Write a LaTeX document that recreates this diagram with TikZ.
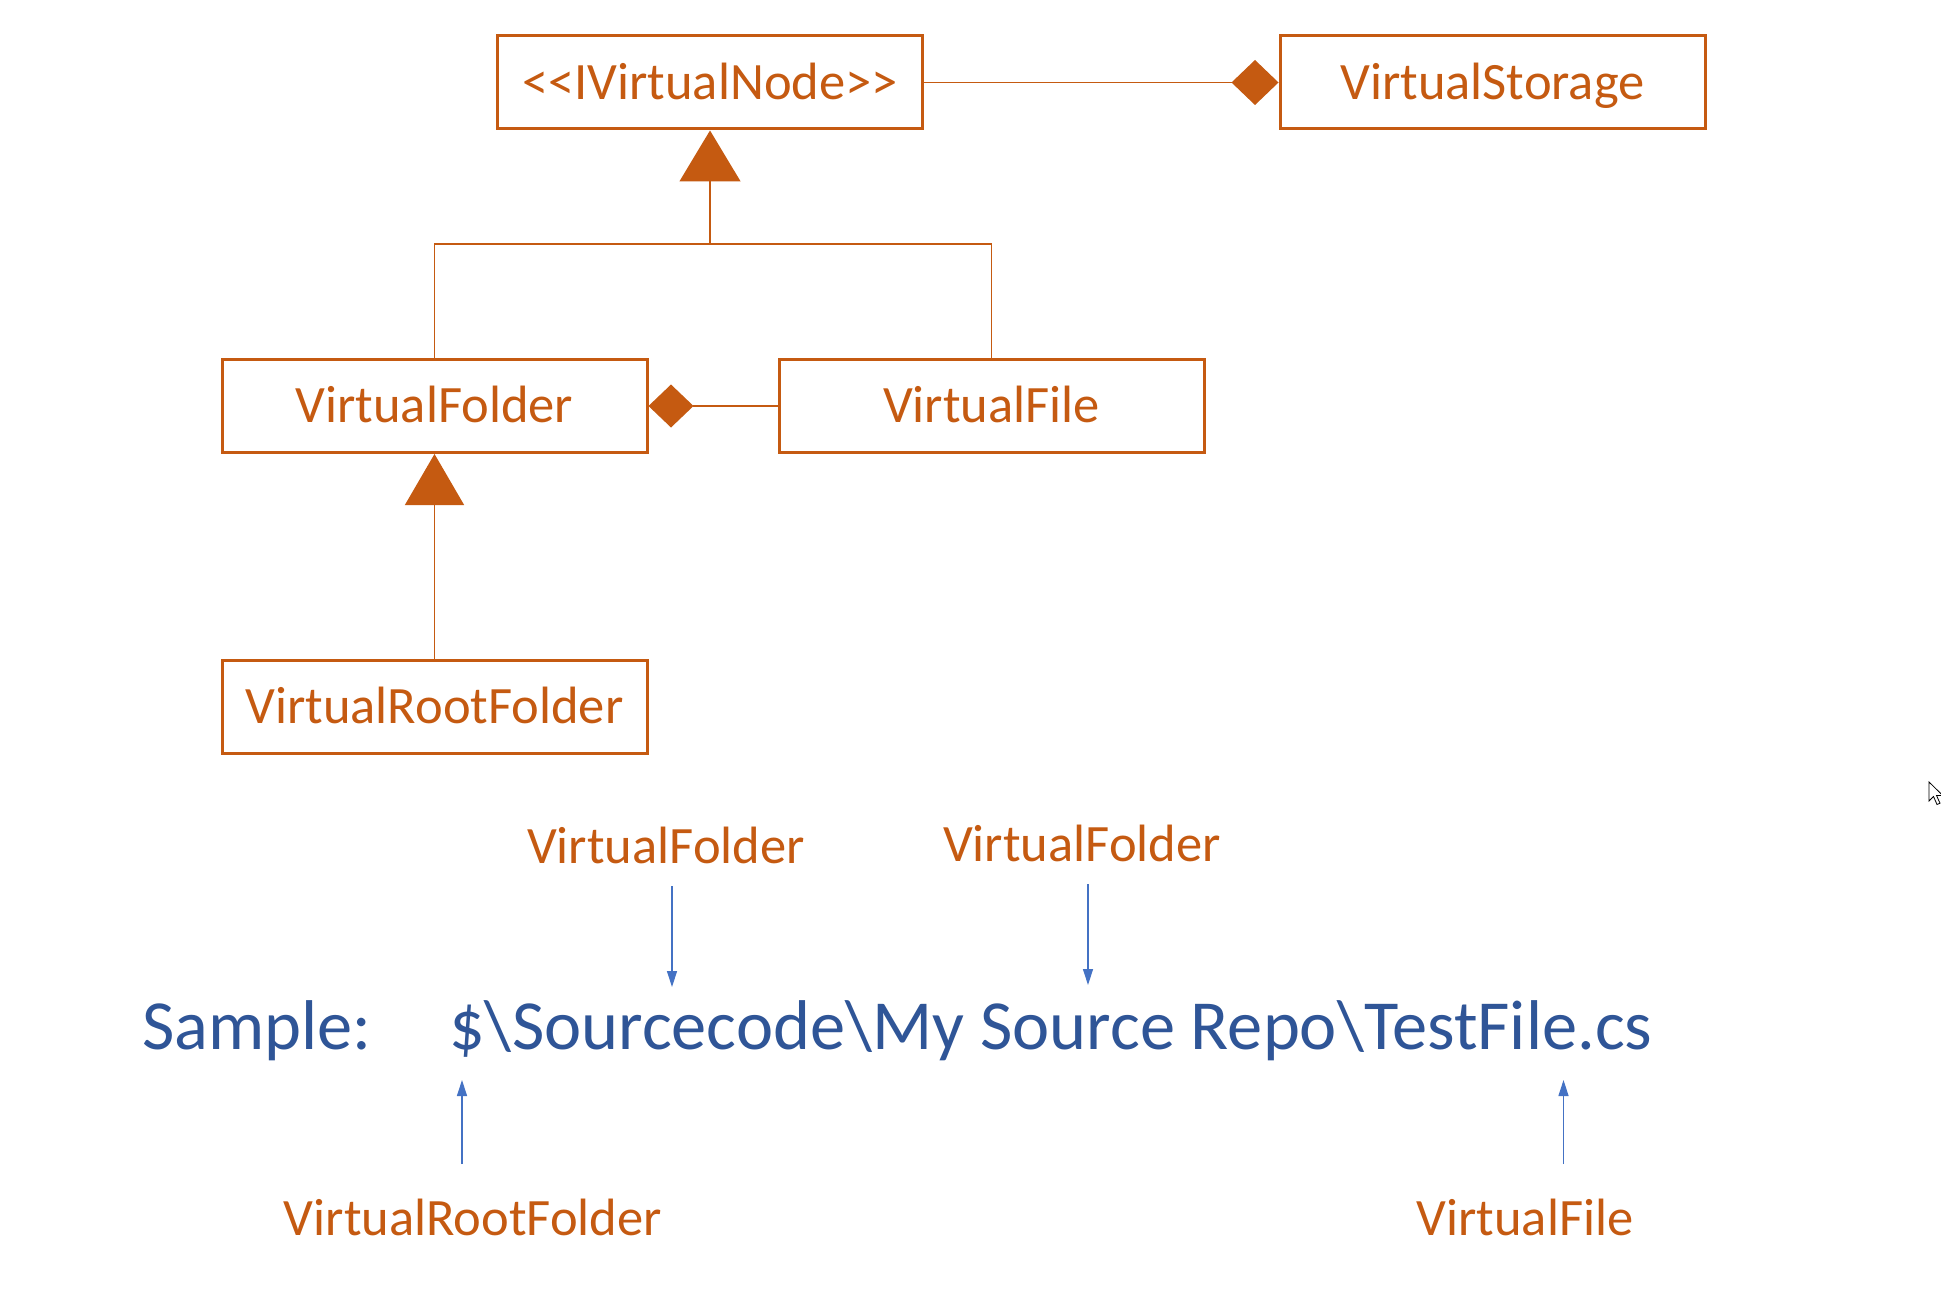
\documentclass[tikz,border=0pt]{standalone}
\usepackage{fontspec}
\setmainfont{Carlito}
\usetikzlibrary{arrows.meta}
\definecolor{uorange}{HTML}{C55A11}
\definecolor{ublue}{HTML}{2F5597}
\definecolor{ablue}{HTML}{4472C4}
\begin{document}
\begin{tikzpicture}[x=1pt,y=-1pt,
 cls/.style={draw=uorange,line width=3pt,minimum width=425pt,minimum height=93pt,inner sep=0pt,text=uorange,font=\fontsize{52.5}{60}\selectfont,text height=33.8pt,text depth=0pt},
 conn/.style={draw=uorange,line width=1.3pt},
 gen/.style={conn,-{Triangle[width=61pt,length=51pt,fill=uorange]}},
 comp/.style={conn,{Diamond[width=45pt,length=47pt,fill=uorange]}-},
 lbl/.style={text=uorange,font=\fontsize{52.5}{60}\selectfont,inner sep=0pt,anchor=base},
 smp/.style={text=ublue,font=\fontsize{70.4}{80}\selectfont,inner sep=0pt,anchor=base west},
 barrow/.style={draw=ablue,line width=1.3pt,-{Triangle[width=10pt,length=16pt,fill=ablue]}}
]
\useasboundingbox (0,0) rectangle (1941,1292);
\fill[white] (0,0) rectangle (1941,1292);

% class boxes
\node[cls] (ivn) at (710,82.5) {<{}<IVirtualNode>{}>};
\node[cls] (vs) at (1492.5,82.5) {VirtualStorage};
\node[cls] (vf) at (434.5,406) {VirtualFolder};
\node[cls] (vfile) at (991.5,406) {VirtualFile};
\node[cls] (vrf) at (434.5,707) {VirtualRootFolder};

% connectors
\coordinate (j) at (710,244);
\draw[gen] (vf.north) |- (j) -- (ivn.south);
\draw[conn] (vfile.north) |- (j);
\draw[comp] (vs.west) -- (ivn.east);
\draw[conn,{Diamond[width=43pt,length=45pt,fill=uorange]}-] (vf.east) -- (vfile.west);
\draw[conn,-{Triangle[width=59pt,length=51pt,fill=uorange]}] (vrf.north) -- (vf.south);

% sample
\node[lbl] (l1) at (666,863) {VirtualFolder};
\node[lbl] (l2) at (1082,861) {VirtualFolder};
\node[smp] (sample) at (142,1049) {Sample:};
\node[smp] (path) at (449,1049) {\$\textbackslash Sourcecode\textbackslash My Source Repo\textbackslash TestFile.cs};
\node[lbl] (l3) at (473,1235) {VirtualRootFolder};
\node[lbl] (l4) at (1525,1235) {VirtualFile};

\coordinate (a1) at (672,886); \coordinate (b1) at (672,987);
\coordinate (a2) at (1088,884); \coordinate (b2) at (1088,985);
\coordinate (a3) at (462,1164); \coordinate (b3) at (462,1080);
\coordinate (a4) at (1563.5,1164); \coordinate (b4) at (1563.5,1080);
\draw[barrow] (a1) -- (b1);
\draw[barrow] (a2) -- (b2);
\draw[barrow] (a3) -- (b3);
\draw[barrow] (a4) -- (b4);

% mouse pointer
\draw[black,line width=0.8pt,fill=white,line join=miter] (1929,782) -- ++(0,19) -- ++(4.5,-4.5) -- ++(3.5,8) -- ++(3,-1.3) -- ++(-3.5,-7.7) -- ++(6.3,0) -- cycle;
\end{tikzpicture}
\end{document}
